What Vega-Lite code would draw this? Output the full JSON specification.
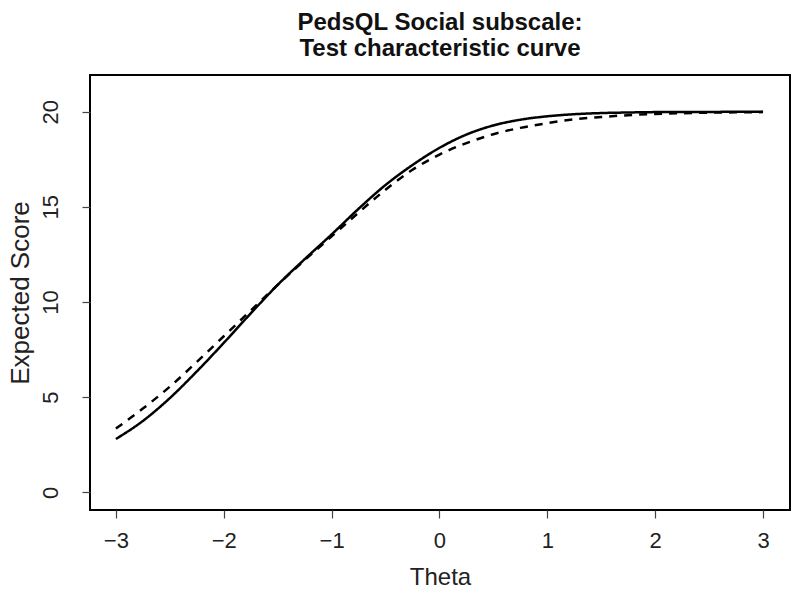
{
  "$schema": "https://vega.github.io/schema/vega-lite/v6.json",
  "width": 700,
  "height": 435,
  "autosize": {"type": "none"},
  "padding": {"left": 90, "top": 75, "right": 10, "bottom": 86},
  "background": "white",
  "config": {
    "view": {"stroke": "black", "strokeWidth": 2},
    "font": "Liberation Sans"
  },
  "title": {
    "text": ["PedsQL Social subscale:", "Test characteristic curve"],
    "fontSize": 24,
    "lineHeight": 26,
    "fontWeight": "bold",
    "font": "Liberation Sans",
    "color": "#111111",
    "anchor": "middle",
    "frame": "group",
    "offset": 14
  },
  "data": {
    "values": [
      {"theta": -3.0, "score": 2.8, "model": "Model A"},
      {"theta": -2.75, "score": 3.75, "model": "Model A"},
      {"theta": -2.5, "score": 4.95, "model": "Model A"},
      {"theta": -2.25, "score": 6.35, "model": "Model A"},
      {"theta": -2.0, "score": 7.85, "model": "Model A"},
      {"theta": -1.75, "score": 9.4, "model": "Model A"},
      {"theta": -1.5, "score": 10.9, "model": "Model A"},
      {"theta": -1.25, "score": 12.25, "model": "Model A"},
      {"theta": -1.0, "score": 13.55, "model": "Model A"},
      {"theta": -0.75, "score": 14.9, "model": "Model A"},
      {"theta": -0.5, "score": 16.15, "model": "Model A"},
      {"theta": -0.25, "score": 17.2, "model": "Model A"},
      {"theta": 0.0, "score": 18.1, "model": "Model A"},
      {"theta": 0.25, "score": 18.8, "model": "Model A"},
      {"theta": 0.5, "score": 19.28, "model": "Model A"},
      {"theta": 0.75, "score": 19.58, "model": "Model A"},
      {"theta": 1.0, "score": 19.76, "model": "Model A"},
      {"theta": 1.25, "score": 19.87, "model": "Model A"},
      {"theta": 1.5, "score": 19.93, "model": "Model A"},
      {"theta": 1.75, "score": 19.96, "model": "Model A"},
      {"theta": 2.0, "score": 19.98, "model": "Model A"},
      {"theta": 2.5, "score": 19.99, "model": "Model A"},
      {"theta": 3.0, "score": 20.0, "model": "Model A"},
      {"theta": -3.0, "score": 3.35, "model": "Model B"},
      {"theta": -2.75, "score": 4.4, "model": "Model B"},
      {"theta": -2.5, "score": 5.55, "model": "Model B"},
      {"theta": -2.25, "score": 6.85, "model": "Model B"},
      {"theta": -2.0, "score": 8.2, "model": "Model B"},
      {"theta": -1.75, "score": 9.55, "model": "Model B"},
      {"theta": -1.5, "score": 10.9, "model": "Model B"},
      {"theta": -1.25, "score": 12.2, "model": "Model B"},
      {"theta": -1.0, "score": 13.45, "model": "Model B"},
      {"theta": -0.75, "score": 14.7, "model": "Model B"},
      {"theta": -0.5, "score": 15.9, "model": "Model B"},
      {"theta": -0.25, "score": 16.95, "model": "Model B"},
      {"theta": 0.0, "score": 17.75, "model": "Model B"},
      {"theta": 0.25, "score": 18.35, "model": "Model B"},
      {"theta": 0.5, "score": 18.82, "model": "Model B"},
      {"theta": 0.75, "score": 19.15, "model": "Model B"},
      {"theta": 1.0, "score": 19.4, "model": "Model B"},
      {"theta": 1.25, "score": 19.6, "model": "Model B"},
      {"theta": 1.5, "score": 19.72, "model": "Model B"},
      {"theta": 1.75, "score": 19.82, "model": "Model B"},
      {"theta": 2.0, "score": 19.88, "model": "Model B"},
      {"theta": 2.25, "score": 19.92, "model": "Model B"},
      {"theta": 2.5, "score": 19.95, "model": "Model B"},
      {"theta": 2.75, "score": 19.97, "model": "Model B"},
      {"theta": 3.0, "score": 19.98, "model": "Model B"}
    ]
  },
  "mark": {"type": "line", "interpolate": "monotone", "strokeWidth": 2.5, "color": "black"},
  "encoding": {
    "x": {
      "field": "theta",
      "type": "quantitative",
      "scale": {"domain": [-3.24, 3.25], "nice": false, "zero": false},
      "axis": {
        "title": "Theta",
        "values": [-3, -2, -1, 0, 1, 2, 3],
        "format": "d",
        "grid": false,
        "domain": false,
        "tickSize": 8,
        "tickColor": "#444444",
        "tickWidth": 1.2,
        "labelFontSize": 22,
        "labelFont": "Liberation Sans",
        "labelColor": "#222222",
        "labelPadding": 12,
        "titleFontSize": 24,
        "titleFont": "Liberation Sans",
        "titleFontWeight": "normal",
        "titleColor": "#222222",
        "titlePadding": 14
      }
    },
    "y": {
      "field": "score",
      "type": "quantitative",
      "scale": {"domain": [-0.93, 21.93], "nice": false, "zero": false},
      "axis": {
        "title": "Expected Score",
        "values": [0, 5, 10, 15, 20],
        "grid": false,
        "domain": false,
        "tickSize": 8,
        "tickColor": "#444444",
        "tickWidth": 1.2,
        "labelAngle": -90,
        "labelAlign": "center",
        "labelBaseline": "bottom",
        "labelFontSize": 22,
        "labelFont": "Liberation Sans",
        "labelColor": "#222222",
        "labelPadding": 20,
        "titleFontSize": 26,
        "titleFont": "Liberation Sans",
        "titleFontWeight": "normal",
        "titleColor": "#222222",
        "titlePadding": 6
      }
    },
    "strokeDash": {
      "field": "model",
      "type": "nominal",
      "scale": {"domain": ["Model A", "Model B"], "range": [[1, 0], [8, 7]]},
      "legend": null
    }
  }
}
